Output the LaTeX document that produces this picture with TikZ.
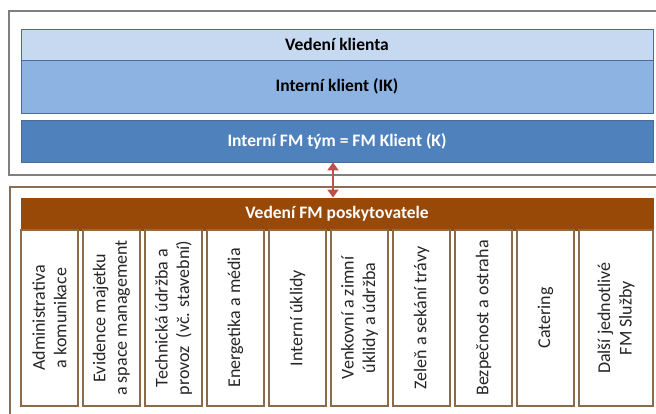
\documentclass[tikz,border=0pt]{standalone}
\usepackage{fontspec}
\setmainfont{Carlito}
\usetikzlibrary{arrows.meta}

\definecolor{ramecek}{HTML}{7F7F7F}
\definecolor{svetla}{HTML}{C6D9F1}
\definecolor{stredni}{HTML}{8DB3E2}
\definecolor{tmava}{HTML}{4F81BD}
\definecolor{okraj}{HTML}{4A6B93}
\definecolor{hneda}{HTML}{984807}
\definecolor{hnedyokraj}{HTML}{8C6A4C}
\definecolor{sipka}{HTML}{C0504D}

\begin{document}
\begin{tikzpicture}[x=1pt, y=-1pt,
    pas/.style={draw=okraj, line width=0.8pt, minimum width=632pt, inner sep=0pt,
      font=\fontsize{17.5}{20}\selectfont\bfseries},
    sloupec/.style={draw=hnedyokraj, line width=1.3pt, fill=white, rotate=90,
      minimum width=176pt, inner sep=0pt, align=center, text=black!85,
      font=\fontsize{18}{21.5}\selectfont}]
      \useasboundingbox (0,0) rectangle (656,414);
      % klient
      \draw[ramecek, line width=1.2pt] (9,11) rectangle (670,175);
      \node[pas, fill=svetla, minimum height=31pt] (vedeni) at (337,44.5) {Vedení klienta};
      \node[pas, fill=stredni, minimum height=53pt] (ik) at (337,86.5) {Interní klient (IK)};
      \node[pas, fill=tmava, text=white, minimum height=42pt] (fmtym) at (337,141) {Interní FM tým = FM Klient (K)};
      % poskytovatel
      \draw[hnedyokraj!85!gray, line width=1.2pt] (10,187) rectangle (670,430);
      \node[pas, draw=hneda, fill=hneda, text=white, minimum height=32pt] (vedenifm) at (337,214) {Vedení FM poskytovatele};
      \foreach \x/\w/\txt [count=\n] in {21/57/{Administrativa\\ a komunikace},
          83/57/{Evidence majetku\\ a space management},
          145/57/{Technická údržba a\\ provoz~ (vč. stavební)},
          207/57/{Energetika a média},
          269/57/{Interní úklidy},
          331/57/{Venkovní a zimní\\ úklidy a údržba},
          393/57/{Zeleň a sekání trávy},
          455/57/{Bezpečnost a ostraha},
          517/57/{Catering},
          579/74/{Další jednotlivé\\ FM Služby}}
        \node[sloupec, minimum height=\w pt] (sluzba\n) at (\x+\w/2,318) {\txt};
      \draw[sipka, line width=2pt, {Triangle[length=8pt,width=11pt]}-{Triangle[length=8pt,width=11pt]}]
        ([xshift=-4pt]fmtym.south) -- ([xshift=-4pt]vedenifm.north);
\end{tikzpicture}
\end{document}
